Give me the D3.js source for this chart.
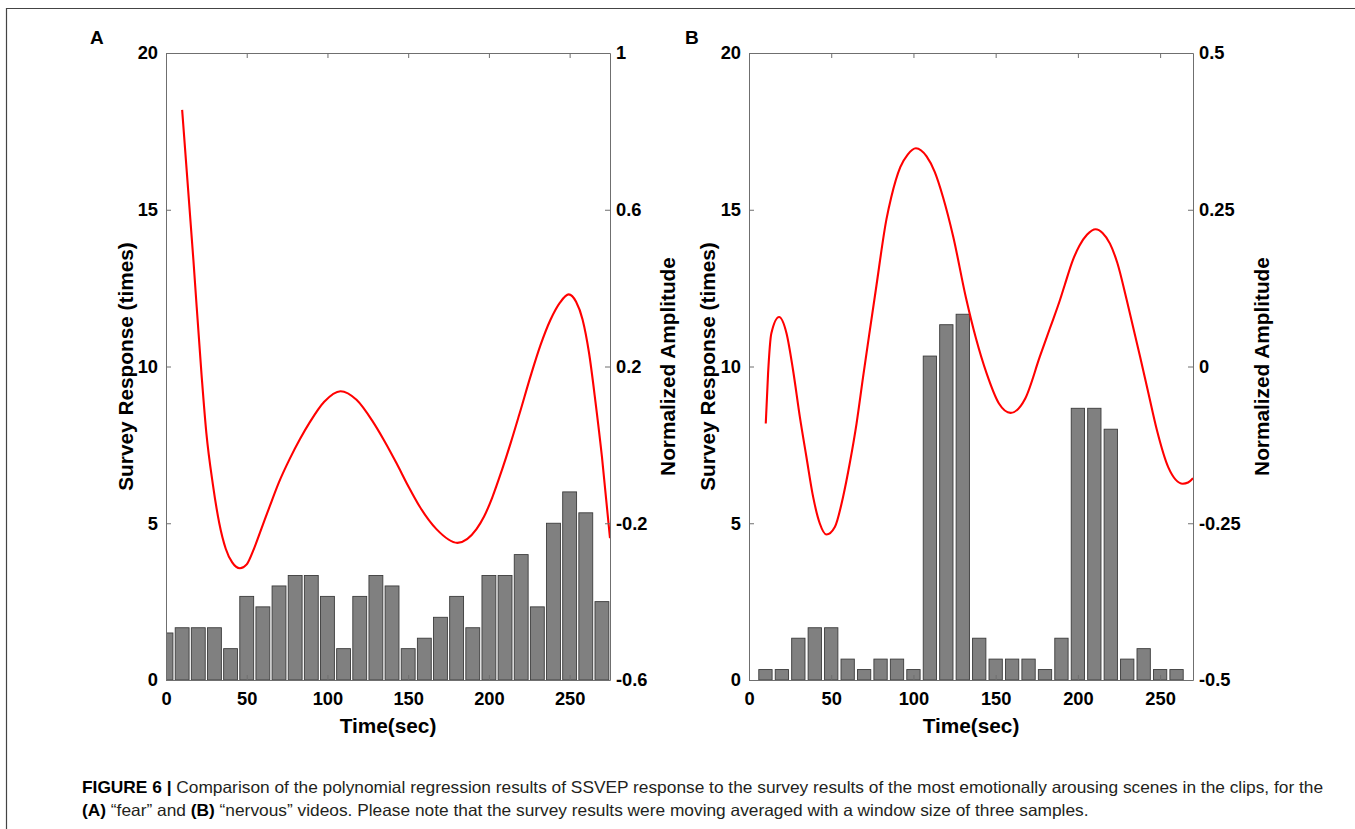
<!DOCTYPE html>
<html>
<head>
<meta charset="utf-8">
<script src="https://cdn.jsdelivr.net/npm/d3@7"></script>
<style>
  html, body { margin: 0; padding: 0; background: #fff; }
  svg { display: block; }
  .tick-label { font-family: "Liberation Sans", Arial, sans-serif; font-weight: bold; font-size: 18.3px; fill: #000; }
  .axis-title { font-family: "Liberation Sans", Arial, sans-serif; font-weight: bold; font-size: 20.8px; fill: #000; }
  .panel-label { font-family: "Liberation Sans", Arial, sans-serif; font-weight: bold; font-size: 19px; fill: #000; }
  .caption { font-family: "Liberation Sans", Arial, sans-serif; font-size: 17.32px; fill: #231f20; }
</style>
</head>
<body>
<svg id="chart" width="1355" height="829"></svg>
<script>
(function () {
  'use strict';

  // ─── Data ─────────────────────────────────────────

  const barTimesA = [0, 10, 20, 30, 40, 50, 60, 70, 80, 90, 100, 110, 120, 130,
    140, 150, 160, 170, 180, 190, 200, 210, 220, 230, 240, 250, 260, 270];
  const surveyA = [1.5, 1.667, 1.667, 1.667, 1, 2.667, 2.333, 3, 3.333, 3.333, 2.667, 1, 2.667, 3.333,
    3, 1, 1.333, 2, 2.667, 1.667, 3.333, 3.333, 4, 2.333, 5, 6, 5.333, 2.5];

  const barTimesB = [10, 20, 30, 40, 50, 60, 70, 80, 90, 100, 110, 120, 130,
    140, 150, 160, 170, 180, 190, 200, 210, 220, 230, 240, 250, 260];
  const surveyB = [0.333, 0.333, 1.333, 1.667, 1.667, 0.667, 0.333, 0.667, 0.667, 0.333, 10.333, 11.333, 11.667,
    1.333, 0.667, 0.667, 0.667, 0.333, 1.333, 8.667, 8.667, 8, 0.667, 1, 0.333, 0.333];

  // polynomial fit (time, normalized amplitude)
  const fitTimeA = [10, 17, 22, 25, 29, 33, 37, 41, 45.8, 50, 54, 59, 64.4, 70, 76.7, 83, 89.1, 98, 108.1,
    118, 128, 135, 142.8, 150, 157.2, 167.5, 180.5, 192.3, 197, 202, 208, 213.5, 219, 226, 232, 238, 244, 249.4,
    254, 258, 262, 266, 270, 275];
  const fitAmpA = [0.855, 0.47, 0.18, 0.03, -0.1, -0.2, -0.265, -0.3, -0.315, -0.305, -0.27, -0.215, -0.155, -0.095, -0.035, 0.015, 0.058, 0.11, 0.137,
    0.115, 0.06, 0.012, -0.047, -0.105, -0.158, -0.215, -0.25, -0.215, -0.183, -0.135, -0.065, 0.005, 0.08, 0.178, 0.255, 0.318, 0.363, 0.384,
    0.365, 0.32, 0.235, 0.11, -0.03, -0.238];

  const fitTimeB = [10.2, 11.6, 13.6, 18.3, 22.8, 26.8, 30.9, 34.9, 39, 43, 47.1, 52.2, 57.2, 61.3, 65.4, 69.4, 73.5, 77.1,
    83.6, 86.5, 92, 96.5, 101.5, 108, 113, 118, 124.2, 131.9, 138, 144.5, 152, 159.1, 168, 176.9, 183, 189.1, 192, 197, 201, 205.5,
    210.8, 215, 219.5, 224, 229.7, 237.8, 243, 248, 255, 263.8, 267, 270];
  const fitAmpB = [-0.091, -0.011, 0.053, 0.079, 0.053, -0.006, -0.08, -0.144, -0.208, -0.25, -0.268, -0.256, -0.208, -0.154, -0.091, -0.016, 0.058, 0.122,
    0.235, 0.27, 0.318, 0.338, 0.348, 0.335, 0.31, 0.27, 0.207, 0.11, 0.045, -0.011, -0.059, -0.074, -0.051, 0.016, 0.061, 0.106, 0.13, 0.17, 0.193, 0.21,
    0.219, 0.213, 0.196, 0.165, 0.106, 0.016, -0.044, -0.101, -0.161, -0.187, -0.185, -0.178];

  const xTicks = [0, 50, 100, 150, 200, 250];
  const leftTicks = [0, 5, 10, 15, 20];
  const rightTicksA = [-0.6, -0.2, 0.2, 0.6, 1];
  const rightTicksB = [-0.5, -0.25, 0, 0.25, 0.5];

  // ─── Layout ───────────────────────────────────────

  const PLOT_W = 444, PLOT_H = 627, TOP = 53;
  const AXIS_COLOR = '#6f6f6f';
  const TICK_LEN = 5;

  const svg = d3.select('#chart');

  // figure frame (cut off at right and bottom)
  svg.append('path')
    .attr('d', 'M6.5,829 L6.5,8.5 L1355,8.5')
    .attr('fill', 'none')
    .attr('stroke', '#444')
    .attr('stroke-width', 1.2);

  // ─── Panel ────────────────────────────────────────

  function drawPanel(opts) {
    const g = svg.append('g').attr('transform', `translate(${opts.left}, ${TOP})`);

    const x = d3.scaleLinear().domain([0, opts.xMax]).range([0, PLOT_W]);
    const yL = d3.scaleLinear().domain([0, 20]).range([PLOT_H, 0]);
    const yR = d3.scaleLinear().domain(opts.rightDomain).range([PLOT_H, 0]);

    const clipId = 'clip-' + opts.id;
    g.append('clipPath').attr('id', clipId)
      .append('rect').attr('width', PLOT_W).attr('height', PLOT_H);

    const plot = g.append('g').attr('clip-path', `url(#${clipId})`);

    // bars
    const bw = x(opts.barWidth) - x(0);
    plot.selectAll('rect.bar')
      .data(opts.times.map((t, i) => ({ t: t, v: opts.values[i] })))
      .join('rect')
      .attr('class', 'bar')
      .attr('x', d => x(d.t) - bw / 2)
      .attr('y', d => yL(d.v))
      .attr('width', bw)
      .attr('height', d => yL(0) - yL(d.v))
      .attr('fill', '#808080')
      .attr('stroke', '#3c3c3c')
      .attr('stroke-width', 0.9);

    // fitted curve
    const line = d3.line()
      .x(d => x(d[0]))
      .y(d => yR(d[1]))
      .curve(d3.curveMonotoneX);

    plot.append('path')
      .datum(opts.fitTime.map((t, i) => [t, opts.fitAmp[i]]))
      .attr('d', line)
      .attr('fill', 'none')
      .attr('stroke', '#ff0000')
      .attr('stroke-width', 2.1);

    // axes (MATLAB-like, ticks pointing inward, box on)
    const axisBottom = d3.axisBottom(x).tickValues(xTicks).tickSizeInner(-TICK_LEN).tickSizeOuter(0).tickPadding(12);
    const axisTop = d3.axisTop(x).tickValues(xTicks).tickSizeInner(-TICK_LEN).tickSizeOuter(0).tickFormat('');
    const axisLeft = d3.axisLeft(yL).tickValues(leftTicks).tickSizeInner(-TICK_LEN).tickSizeOuter(0).tickPadding(8);
    const axisRight = d3.axisRight(yR).tickValues(opts.rightTicks).tickSizeInner(-TICK_LEN).tickSizeOuter(0)
      .tickPadding(6).tickFormat(d => String(d));

    const gb = g.append('g').attr('transform', `translate(0, ${PLOT_H})`).call(axisBottom);
    const gt = g.append('g').call(axisTop);
    const gl = g.append('g').call(axisLeft);
    const gr = g.append('g').attr('transform', `translate(${PLOT_W}, 0)`).call(axisRight);

    [gb, gt, gl, gr].forEach(function (a) {
      a.attr('font-family', null).attr('font-size', null);
      a.select('.domain').attr('stroke', AXIS_COLOR);
      a.selectAll('.tick line').attr('stroke', AXIS_COLOR);
      a.selectAll('.tick text').attr('class', 'tick-label').attr('fill', null);
    });
    gb.selectAll('.tick text').attr('dy', '0.71em');

    // titles
    g.append('text').attr('class', 'axis-title')
      .attr('text-anchor', 'middle')
      .attr('transform', `translate(${PLOT_W / 2}, ${PLOT_H + 53})`)
      .text('Time(sec)');

    g.append('text').attr('class', 'axis-title')
      .attr('text-anchor', 'middle')
      .attr('transform', `translate(${opts.leftTitleX}, ${PLOT_H / 2}) rotate(-90)`)
      .text('Survey Response (times)');

    g.append('text').attr('class', 'axis-title')
      .attr('text-anchor', 'middle')
      .attr('transform', `translate(${opts.rightTitleX}, ${PLOT_H / 2}) rotate(-90)`)
      .text('Normalized Amplitude');

    g.append('text').attr('class', 'panel-label')
      .attr('x', opts.labelX)
      .attr('y', -9)
      .text(opts.id);
  }

  drawPanel({
    id: 'A', left: 166, xMax: 275, barWidth: 8.6,
    times: barTimesA, values: surveyA, fitTime: fitTimeA, fitAmp: fitAmpA,
    rightDomain: [-0.6, 1], rightTicks: rightTicksA,
    leftTitleX: -33, rightTitleX: 509, labelX: -76
  });

  drawPanel({
    id: 'B', left: 749, xMax: 270, barWidth: 8.1,
    times: barTimesB, values: surveyB, fitTime: fitTimeB, fitAmp: fitAmpB,
    rightDomain: [-0.5, 0.5], rightTicks: rightTicksB,
    leftTitleX: -34, rightTitleX: 520, labelX: -64
  });

  // ─── Caption ──────────────────────────────────────

  const cap1 = svg.append('text').attr('class', 'caption').attr('x', 82).attr('y', 793);
  cap1.append('tspan').attr('font-weight', 'bold').attr('fill', '#000').text('FIGURE 6 | ');
  cap1.append('tspan').text('Comparison of the polynomial regression results of SSVEP response to the survey results of the most emotionally arousing scenes in the clips, for the');

  const cap2 = svg.append('text').attr('class', 'caption').attr('x', 82).attr('y', 816);
  cap2.append('tspan').attr('font-weight', 'bold').attr('fill', '#000').text('(A)');
  cap2.append('tspan').text(' \u201Cfear\u201D and ');
  cap2.append('tspan').attr('font-weight', 'bold').attr('fill', '#000').text('(B)');
  cap2.append('tspan').text(' \u201Cnervous\u201D videos. Please note that the survey results were moving averaged with a window size of three samples.');
})();
</script>
</body>
</html>
